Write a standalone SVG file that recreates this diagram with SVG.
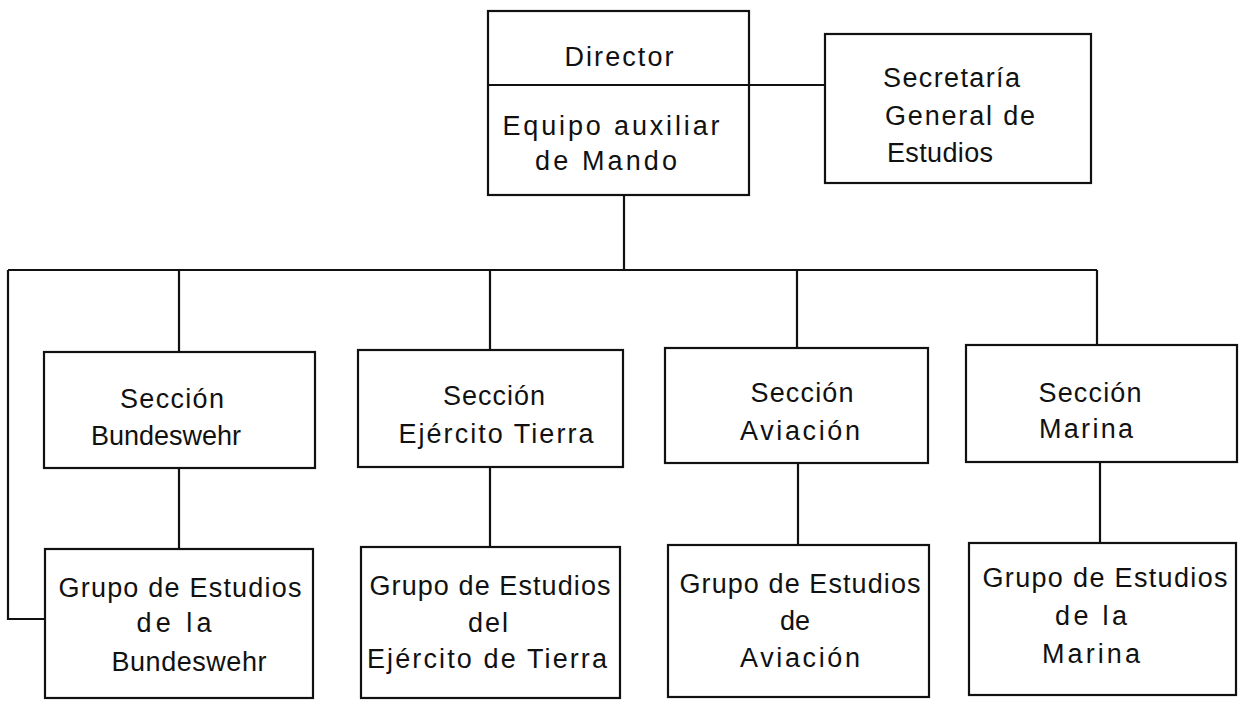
<svg xmlns="http://www.w3.org/2000/svg" width="1246" height="702" viewBox="0 0 1246 702">
<style>
  .box { fill: #ffffff; stroke: #111111; stroke-width: 2.2; }
  .conn { fill: none; stroke: #111111; stroke-width: 2.2; }
  text { font-family: "Liberation Sans", Arial, sans-serif; font-size: 27px; fill: #111111; text-anchor: middle; }
  text.left { text-anchor: start; }
</style>
<rect width="1246" height="702" fill="#ffffff"/>
<g id="connectors">
  <line class="conn" x1="749" y1="85" x2="825" y2="85"/>
  <line class="conn" x1="624" y1="195" x2="624" y2="270"/>
  <line class="conn" x1="8" y1="270" x2="1097" y2="270"/>
  <polyline class="conn" points="8,270 8,619 45,619"/>
  <line class="conn" x1="179" y1="270" x2="179" y2="352"/>
  <line class="conn" x1="490" y1="270" x2="490" y2="350"/>
  <line class="conn" x1="797" y1="270" x2="797" y2="348"/>
  <line class="conn" x1="1097" y1="270" x2="1097" y2="345"/>
  <line class="conn" x1="179" y1="468" x2="179" y2="549"/>
  <line class="conn" x1="490" y1="467" x2="490" y2="547"/>
  <line class="conn" x1="798" y1="463" x2="798" y2="545"/>
  <line class="conn" x1="1100" y1="462" x2="1100" y2="543"/>
</g>
<g id="director">
  <rect class="box" x="488" y="11" width="261" height="184"/>
  <line class="conn" x1="488" y1="85" x2="749" y2="85"/>
  <text x="619" y="66" textLength="109" lengthAdjust="spacing">Director</text>
  <text x="611" y="135" textLength="217" lengthAdjust="spacing">Equipo  auxiliar</text>
  <text x="606" y="170" textLength="142" lengthAdjust="spacing">de  Mando</text>
</g>
<g id="secretaria">
  <rect class="box" x="825" y="34" width="266" height="149"/>
  <text class="left" x="883" y="87" textLength="137" lengthAdjust="spacing">Secretaría</text>
  <text class="left" x="885" y="125" textLength="150" lengthAdjust="spacing">General de</text>
  <text class="left" x="887" y="162" textLength="106" lengthAdjust="spacing">Estudios</text>
</g>
<g id="seccion-bundeswehr">
  <rect class="box" x="44" y="352" width="271" height="116"/>
  <text x="172" y="408" textLength="104" lengthAdjust="spacing">Sección</text>
  <text x="166" y="445" textLength="150" lengthAdjust="spacing">Bundeswehr</text>
</g>
<g id="seccion-ejercito">
  <rect class="box" x="358" y="350" width="265" height="117"/>
  <text x="494" y="405" textLength="102" lengthAdjust="spacing">Sección</text>
  <text x="496" y="443" textLength="195" lengthAdjust="spacing">Ejército Tierra</text>
</g>
<g id="seccion-aviacion">
  <rect class="box" x="665" y="348" width="263" height="115"/>
  <text x="802" y="402" textLength="103" lengthAdjust="spacing">Sección</text>
  <text x="800" y="440" textLength="120" lengthAdjust="spacing">Aviación</text>
</g>
<g id="seccion-marina">
  <rect class="box" x="966" y="345" width="271" height="117"/>
  <text x="1090" y="402" textLength="103" lengthAdjust="spacing">Sección</text>
  <text x="1086" y="438" textLength="94" lengthAdjust="spacing">Marina</text>
</g>
<g id="grupo-bundeswehr">
  <rect class="box" x="45" y="549" width="268" height="149"/>
  <text x="180" y="597" textLength="243" lengthAdjust="spacing">Grupo de Estudios</text>
  <text x="174" y="632" textLength="75" lengthAdjust="spacing">de  la</text>
  <text x="189" y="671" textLength="155" lengthAdjust="spacing">Bundeswehr</text>
</g>
<g id="grupo-ejercito">
  <rect class="box" x="361" y="547" width="259" height="151"/>
  <text x="490" y="595" textLength="241" lengthAdjust="spacing">Grupo de Estudios</text>
  <text x="488" y="632" textLength="40" lengthAdjust="spacing">del</text>
  <text x="487" y="668" textLength="240" lengthAdjust="spacing">Ejército de Tierra</text>
</g>
<g id="grupo-aviacion">
  <rect class="box" x="668" y="545" width="261" height="152"/>
  <text x="800" y="593" textLength="241" lengthAdjust="spacing">Grupo de Estudios</text>
  <text x="795" y="630" textLength="30" lengthAdjust="spacing">de</text>
  <text x="800" y="667" textLength="120" lengthAdjust="spacing">Aviación</text>
</g>
<g id="grupo-marina">
  <rect class="box" x="969" y="543" width="267" height="152"/>
  <text x="1105" y="587" textLength="245" lengthAdjust="spacing">Grupo de  Estudios</text>
  <text x="1091" y="625" textLength="72" lengthAdjust="spacing">de  la</text>
  <text x="1091" y="663" textLength="98" lengthAdjust="spacing">Marina</text>
</g>
</svg>
